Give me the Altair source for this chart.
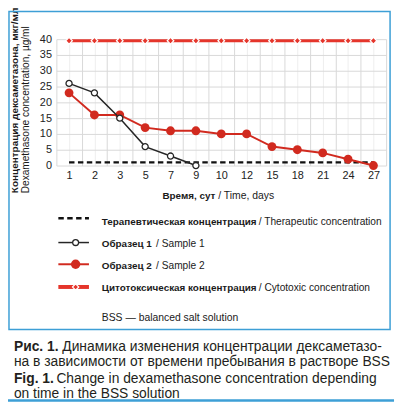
import altair as alt
import pandas as pd

# ---- data ----
days = ["1", "2", "3", "5", "7", "9", "10", "12", "15", "18", "21", "24", "27"]
sample1 = [26, 23, 15, 6, 3, 0]
sample2 = [23, 16, 16, 12, 11, 11, 10, 10, 6, 5, 4, 2, 0]
therapeutic = [1, 1, 1, 1, 1, 1, 1, 1, 1, 1, 1, 1, 1]
cytotoxic = [39.5, 39.5, 39.5, 39.5, 39.5, 39.5, 39.5, 39.5, 39.5, 39.5, 39.5, 39.5, 39.5]
y_ticks = [0, 5, 10, 15, 20, 25, 30, 35, 40]

legend_bold = ["Терапевтическая концентрация", "Образец 1", "Образец 2", "Цитотоксическая концентрация"]
legend_norm = ["/ Therapeutic concentration", "/ Sample 1", "/ Sample 2", "/ Cytotoxic concentration"]
note = "BSS — balanced salt solution"
y_title_ru = "Концентрация дексаметазона, мкг/мл"
y_title_en = "Dexamethasone concentration, µg/ml"
x_title_ru = "Время, сут"
x_title_en = "/ Time, days"
cap1_b, cap1 = "Рис. 1.", "Динамика изменения концентрации дексаметазо-"
cap2 = "на в зависимости от времени пребывания в растворе BSS"
cap3_b, cap3 = "Fig. 1.", "Change in dexamethasone concentration depending"
cap4 = "on time in the BSS solution"

RED = "#d12a1f"
RED2 = "#e5352b"
BLACK = "#262626"
BLUE = "#3d9fd6"
SANS = "Liberation Sans, Arial, Helvetica, sans-serif"


def frame(values):
    return pd.DataFrame({"idx": list(range(len(values))), "day": days[:len(values)], "value": values})


grid_vals = [i * 0.5 - 0.5 for i in range(27)]
label_arr = "[" + ",".join("'%s'" % d for d in days) + "]"

x_enc = alt.X(
    "idx:Q",
    scale=alt.Scale(domain=[-0.5, 12.5], nice=False, zero=False),
    axis=alt.Axis(
        values=grid_vals,
        labelExpr="datum.value % 1 === 0 ? " + label_arr + "[datum.value] : ''",
        grid=True,
        gridColor={"condition": {"test": "datum.value % 1 === 0", "value": "#eeeeee"}, "value": "#d8d8d8"},
        ticks=False, domain=False, title=None,
        labelFontSize=11, labelFont=SANS, labelColor="#222222", labelPadding=4,
        labelFlush=False, labelOverlap=False,
    ),
)
y_enc = alt.Y(
    "value:Q",
    scale=alt.Scale(domain=[0, 40], nice=False),
    axis=alt.Axis(
        values=y_ticks, grid=True, gridColor="#d8d8d8", ticks=False, domain=False, title=None,
        labelFontSize=11, labelFont=SANS, labelColor="#222222", labelPadding=5, labelFlush=False,
    ),
)

ther = alt.Chart(frame(therapeutic)).mark_line(color="#111111", strokeWidth=2.3, strokeDash=[5.5, 3.5]).encode(x=x_enc, y=y_enc)
s2_line = alt.Chart(frame(sample2)).mark_line(color=RED, strokeWidth=2).encode(x=x_enc, y=y_enc)
s2_pts = alt.Chart(frame(sample2)).mark_point(shape="circle", filled=True, color=RED, size=80, opacity=1).encode(x=x_enc, y=y_enc)
s1_line = alt.Chart(frame(sample1)).mark_line(color=BLACK, strokeWidth=1.5).encode(x=x_enc, y=y_enc)
s1_pts = alt.Chart(frame(sample1)).mark_point(shape="circle", filled=True, fill="white", stroke=BLACK, strokeWidth=1.3, size=38, opacity=1).encode(x=x_enc, y=y_enc)
cy_line = alt.Chart(frame(cytotoxic)).mark_line(color=RED2, strokeWidth=3).encode(x=x_enc, y=y_enc)
cy_pts = alt.Chart(frame(cytotoxic)).mark_point(shape="diamond", filled=True, fill=RED2, stroke="white", strokeWidth=1.2, size=45, opacity=1).encode(x=x_enc, y=y_enc)

one = pd.DataFrame({"k": [0]})


def txt(s, x, y, size=10.5, bold=False, font=SANS, align="left", angle=0, color="#1a1a1a", baseline="alphabetic"):
    return alt.Chart(pd.DataFrame({"t": [s]})).mark_text(
        align=align, baseline=baseline, fontSize=size, font=font,
        fontWeight="bold" if bold else "normal", angle=angle, color=color,
    ).encode(x=alt.value(x), y=alt.value(y), text="t:N")


def seg(y, color, width, dash=None):
    kw = dict(color=color, strokeWidth=width)
    if dash:
        kw["strokeDash"] = dash
    return alt.Chart(one).mark_rule(**kw).encode(x=alt.value(2), x2=alt.value(33), y=alt.value(y))


def dot(y, **kw):
    return alt.Chart(one).mark_point(opacity=1, **kw).encode(x=alt.value(19.5), y=alt.value(y))


rows_y = [181.3, 206, 228, 251]
text_y = [188, 210.5, 233, 255.5]
norm_x = [205, 101, 101, 205]

layers = [ther, s2_line, s2_pts, s1_line, s1_pts, cy_line, cy_pts]

# axis titles
layers.append(txt(y_title_ru, -42, 156, size=10.1, bold=True, angle=270, baseline="middle"))
layers.append(txt(y_title_en, -31, 156, size=10.2, angle=270, baseline="middle"))
layers.append(txt(x_title_ru, 161, 162, size=10, bold=True, align="right"))
layers.append(txt(x_title_en, 164, 162, size=10.5))

# legend
layers.append(seg(rows_y[0], "#111111", 2.5, [5.5, 3.5]))
layers.append(seg(rows_y[1], BLACK, 1.5))
layers.append(dot(rows_y[1], shape="circle", filled=True, fill="white", stroke=BLACK, strokeWidth=1.3, size=36))
layers.append(seg(rows_y[2], RED, 2))
layers.append(dot(rows_y[2], shape="circle", filled=True, color=RED, size=90))
layers.append(seg(rows_y[3], RED2, 4))
layers.append(dot(rows_y[3], shape="diamond", filled=True, fill=RED2, stroke="white", strokeWidth=1.2, size=40))
for i in range(4):
    layers.append(txt(legend_bold[i], 46, text_y[i], size=10, bold=True))
    layers.append(txt(legend_norm[i], norm_x[i], text_y[i], size=10.3))
layers.append(txt(note, 46, 285, size=10.5))

# frame box and caption
layers.append(alt.Chart(one).mark_rect(fill=None, fillOpacity=0, stroke=BLUE, strokeWidth=1.5).encode(
    x=alt.value(-48), x2=alt.value(338), y=alt.value(-28), y2=alt.value(294)))
layers.append(txt(cap1_b, -43, 316, size=14, bold=True, color="#231f20"))
layers.append(txt(cap1, 6, 316, size=14, color="#231f20"))
layers.append(txt(cap2, -43, 331, size=14, color="#231f20"))
layers.append(txt(cap3_b, -43, 348, size=14, bold=True, color="#231f20"))
layers.append(txt(cap3, 0, 348, size=14, color="#231f20"))
layers.append(txt(cap4, -43, 363, size=14, color="#231f20"))
layers.append(alt.Chart(one).mark_rule(color=BLUE, strokeWidth=2.5).encode(
    x=alt.value(-49), x2=alt.value(342), y=alt.value(366)))

chart = alt.layer(*layers).properties(
    width=334, height=128,
    padding={"left": 49, "top": 29, "right": 10, "bottom": 241},
    autosize=alt.AutoSizeParams(type="none"),
    background="white",
).configure_view(stroke=None)

chart.save("out.html", embed_options={"renderer": "svg", "actions": False})
